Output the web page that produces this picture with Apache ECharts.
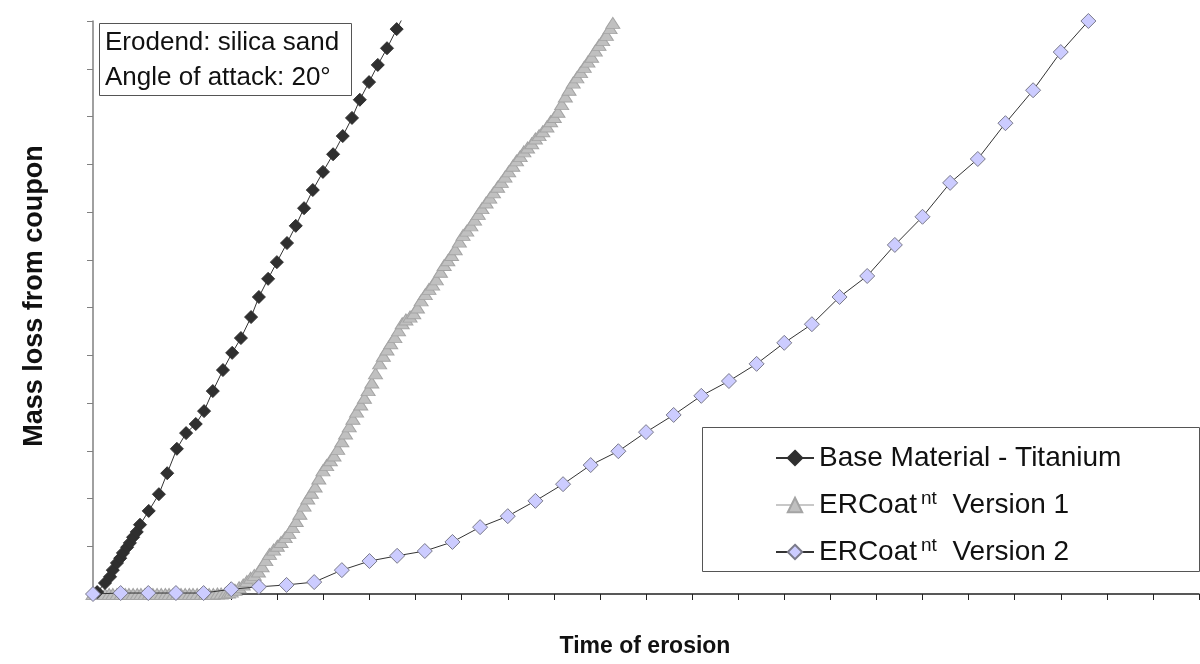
<!DOCTYPE html>
<html>
<head>
<meta charset="utf-8">
<title>Mass loss vs time of erosion</title>
<script src="https://cdn.jsdelivr.net/npm/echarts@6/dist/echarts.min.js"></script>
<style>
  html, body { margin: 0; padding: 0; background: #fff; }
  #chart { width: 1200px; height: 664px; }
</style>
</head>
<body>
<div id="chart"></div>
<script>
// Base Material - Titanium (black diamonds)
var baseX = [0.09, 0.26, 0.37, 0.43, 0.52, 0.59, 0.65, 0.74, 0.80, 0.87, 0.95, 1.02, 1.21, 1.43, 1.61, 1.82, 2.02, 2.23, 2.41, 2.60,
  2.82, 3.02, 3.21, 3.43, 3.60, 3.80, 3.99, 4.21, 4.40, 4.58, 4.77, 4.99, 5.21, 5.42, 5.62, 5.79, 5.99, 6.18, 6.38, 6.59, 6.81];
var baseY = [0.04, 0.23, 0.36, 0.50, 0.65, 0.75, 0.86, 0.98, 1.07, 1.19, 1.30, 1.45, 1.74, 2.09, 2.53, 3.04, 3.37, 3.56, 3.83, 4.25,
  4.69, 5.05, 5.36, 5.80, 6.22, 6.60, 6.95, 7.35, 7.71, 8.08, 8.46, 8.84, 9.21, 9.59, 9.97, 10.35, 10.72, 11.08, 11.43, 11.83, 12.23];

// ERCoat nt Version 1 (grey triangles)
var v1X = [0.00, 0.09, 0.17, 0.26, 0.35, 0.43, 0.52, 0.61, 0.70, 0.78, 0.87, 0.96, 1.04, 1.13, 1.22, 1.30, 1.39, 1.48, 1.57, 1.65,
  1.74, 1.83, 1.91, 2.00, 2.09, 2.17, 2.26, 2.35, 2.44, 2.52, 2.61, 2.70, 2.78, 2.87, 2.94,
  3.00, 3.08, 3.17, 3.26, 3.34, 3.42, 3.50, 3.59, 3.67, 3.75, 3.83, 3.92, 4.00, 4.08, 4.17, 4.25, 4.33, 4.41, 4.49, 4.58,
  4.66, 4.74, 4.82, 4.90, 4.99, 5.07, 5.15, 5.23, 5.31, 5.40, 5.48, 5.56, 5.64, 5.72, 5.81, 5.89, 5.97, 6.05, 6.13, 6.22,
  6.30, 6.38, 6.46, 6.55, 6.63, 6.71, 6.79, 6.88, 6.96, 7.04, 7.12, 7.21, 7.29, 7.37, 7.45, 7.54, 7.62, 7.70, 7.78, 7.86,
  7.95, 8.03, 8.11, 8.20, 8.28, 8.36, 8.44, 8.53, 8.61, 8.69, 8.78, 8.86, 8.94, 9.02, 9.11, 9.19, 9.27, 9.35, 9.43, 9.52,
  9.60, 9.68, 9.76, 9.85, 9.93, 10.01, 10.09, 10.17, 10.25, 10.33, 10.42, 10.50, 10.58, 10.66, 10.74, 10.82, 10.90, 10.98,
  11.06, 11.14, 11.22, 11.28];
var v1Y = [0, 0, 0, 0, 0, 0, 0, 0, 0, 0, 0, 0, 0, 0, 0, 0, 0, 0, 0, 0,
  0, 0, 0, 0, 0, 0, 0, 0, 0, 0, 0, 0.01, 0.01, 0.02, 0.03,
  0.05, 0.09, 0.14, 0.20, 0.27, 0.34, 0.40, 0.47, 0.58, 0.71, 0.84, 0.93, 1.01, 1.09, 1.19, 1.28, 1.40, 1.53, 1.68, 1.85,
  2.00, 2.12, 2.25, 2.42, 2.59, 2.70, 2.80, 2.90, 3.04, 3.20, 3.36, 3.51, 3.67, 3.82, 3.97, 4.11, 4.27, 4.43, 4.62, 4.83,
  4.99, 5.12, 5.25, 5.38, 5.52, 5.67, 5.75, 5.81, 5.88, 6.00, 6.15, 6.28, 6.39, 6.48, 6.59, 6.75, 6.89, 6.99, 7.10, 7.22,
  7.38, 7.52, 7.61, 7.72, 7.84, 7.96, 8.08, 8.20, 8.30, 8.41, 8.53, 8.63, 8.74, 8.85, 8.97, 9.08, 9.17, 9.27, 9.35, 9.44,
  9.54, 9.61, 9.69, 9.79, 9.90, 9.99, 10.10, 10.26, 10.42, 10.56, 10.71, 10.82, 10.93, 11.04, 11.15, 11.25, 11.38, 11.50,
  11.60, 11.71, 11.85, 11.96];

// ERCoat nt Version 2 (lilac diamonds)
var v2X = [0, 0.6, 1.2, 1.8, 2.4, 3.0, 3.6, 4.2, 4.8, 5.4, 6.0, 6.6, 7.2, 7.8, 8.4, 9.0, 9.6, 10.2, 10.8, 11.4,
  12.0, 12.6, 13.2, 13.8, 14.4, 15.0, 15.6, 16.2, 16.8, 17.4, 18.0, 18.6, 19.2, 19.8, 20.4, 21.0, 21.6, 22.2];
var v2Y = [0, 0.02, 0.02, 0.02, 0.02, 0.10, 0.15, 0.19, 0.25, 0.50, 0.69, 0.80, 0.90, 1.09, 1.40, 1.63, 1.95, 2.30, 2.70, 2.99,
  3.39, 3.75, 4.15, 4.46, 4.82, 5.26, 5.65, 6.22, 6.66, 7.31, 7.90, 8.61, 9.11, 9.86, 10.55, 11.35, 12.00, 12.70];

var seriesNames = ['Base Material - Titanium', 'ERCoat nt Version 1', 'ERCoat nt Version 2'];

function zip(xs, ys) {
  var out = [];
  for (var i = 0; i < xs.length; i++) {
    out.push([xs[i], ys[i]]);
  }
  return out;
}

var font = '"Liberation Sans", Arial, sans-serif';
var myChart = echarts.init(document.getElementById('chart'));

myChart.setOption({
  animation: false,
  backgroundColor: '#fff',
  grid: { left: 93, right: 1, top: 21, bottom: 70 },
  xAxis: {
    type: 'value', min: 0, max: 24, interval: 1,
    axisLine: { onZero: false, lineStyle: { color: '#222', width: 1.5 } },
    axisTick: { show: true, length: 6, lineStyle: { color: '#222' } },
    axisLabel: { show: false },
    splitLine: { show: false }
  },
  yAxis: {
    type: 'value', min: 0, max: 12, interval: 1,
    axisLine: { show: true, lineStyle: { color: '#808080', width: 1.5 } },
    axisTick: { show: true, length: 6, lineStyle: { color: '#808080' } },
    axisLabel: { show: false },
    splitLine: { show: false }
  },
  legend: {
    orient: 'vertical',
    left: 770, top: 437,
    itemWidth: 38, itemHeight: 18, itemGap: 15,
    data: seriesNames,
    textStyle: {
      fontFamily: font, fontSize: 28, color: '#111', lineHeight: 32,
      rich: {
        sup: { fontFamily: font, fontSize: 19, color: '#111', verticalAlign: 'top', lineHeight: 32, padding: [0, 0, 12, 4] },
        t: { fontFamily: font, fontSize: 28, color: '#111', lineHeight: 32 }
      }
    },
    formatter: function (name) {
      if (name.indexOf('ERCoat') === 0) {
        return '{t|ERCoat}{sup|nt}{t|  ' + name.slice(10) + '}';
      }
      return name;
    }
  },
  graphic: [
    {
      type: 'rect', silent: true,
      shape: { x: 99.5, y: 23.5, width: 252, height: 72 },
      style: { fill: '#fff', stroke: '#555', lineWidth: 1 }
    },
    {
      type: 'text', x: 105, y: 43,
      style: { text: 'Erodend: silica sand', font: '26px ' + font, fill: '#111', verticalAlign: 'middle' }
    },
    {
      type: 'text', x: 105, y: 78,
      style: { text: 'Angle of attack: 20\u00b0', font: '26px ' + font, fill: '#111', verticalAlign: 'middle' }
    },
    {
      type: 'rect', silent: true, z: 0,
      shape: { x: 702.5, y: 427.5, width: 497, height: 144 },
      style: { fill: '#fff', stroke: '#555', lineWidth: 1 }
    },
    {
      type: 'text', x: 35, y: 296, rotation: Math.PI / 2,
      style: { text: 'Mass loss from coupon', font: 'bold 27px ' + font, fill: '#111', align: 'center', verticalAlign: 'middle' }
    },
    {
      type: 'text', x: 645, y: 647,
      style: { text: 'Time of erosion', font: 'bold 23px ' + font, fill: '#111', align: 'center', verticalAlign: 'middle' }
    }
  ],
  series: [
    {
      name: seriesNames[1], type: 'line', z: 3,
      data: zip(v1X, v1Y),
      symbol: 'triangle', symbolSize: [14, 11],
      lineStyle: { color: '#c8c8c8', width: 1 },
      itemStyle: { color: '#c0c0c0', borderColor: '#a4a4a4', borderWidth: 1 }
    },
    {
      name: seriesNames[0], type: 'line', z: 4,
      data: zip(baseX, baseY),
      symbol: 'diamond', symbolSize: 13,
      lineStyle: { color: '#333', width: 1 },
      itemStyle: { color: '#2f2f2f', borderColor: '#2f2f2f', borderWidth: 1 }
    },
    {
      name: seriesNames[2], type: 'line', z: 5,
      data: zip(v2X, v2Y),
      symbol: 'diamond', symbolSize: 15,
      lineStyle: { color: '#333', width: 1 },
      itemStyle: { color: '#ccccff', borderColor: '#7a7a8a', borderWidth: 1 }
    }
  ]
});
</script>
</body>
</html>
